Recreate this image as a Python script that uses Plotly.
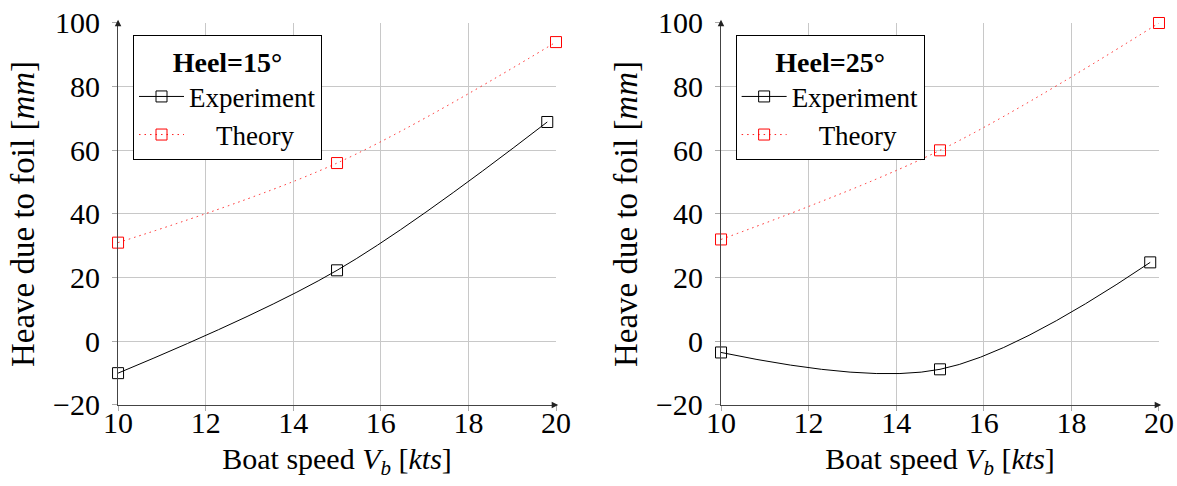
import plotly.graph_objects as go

speed = [10, 15, 19.8]
speed_theory = [10, 15, 20]
exp_15 = [-10, 22.3, 68.9]
theory_15 = [31, 56, 94]
exp_25 = [-3.5, -8.8, 24.8]
theory_25 = [32, 60, 100]
x_ticks = [10, 12, 14, 16, 18, 20]
y_ticks = [-20, 0, 20, 40, 60, 80, 100]
NBSP = "\u00a0"

FONT = "Liberation Serif, Times New Roman, serif"
fig = go.Figure()

panels = [
    ("x", "y", "legend", exp_15, theory_15),
    ("x2", "y2", "legend2", exp_25, theory_25),
]
for xa, ya, lg, ex, th in panels:
    fig.add_trace(go.Scatter(x=speed, y=ex, xaxis=xa, yaxis=ya, legend=lg,
                             name="Experiment", mode="lines+markers",
                             line=dict(color="black", width=1, shape="spline", smoothing=1),
                             marker=dict(symbol="square-open", size=11, color="black", line=dict(width=1)),
                             cliponaxis=False))
    fig.add_trace(go.Scatter(x=speed_theory, y=th, xaxis=xa, yaxis=ya, legend=lg,
                             name=NBSP * 4 + "Theory", mode="lines+markers",
                             line=dict(color="#ff2020", width=1, dash="1.5px,4px", shape="spline", smoothing=1),
                             marker=dict(symbol="square-open", size=11, color="red", line=dict(width=1)),
                             cliponaxis=False))

ydom = [0.1667, 0.9527]
xdoms = [[0.1003, 0.4724], [0.6126, 0.9847]]
axcommon = dict(showgrid=True, gridcolor="#c8c8c8", gridwidth=1, zeroline=False,
                showline=True, linecolor="#444", linewidth=1.3, automargin=False,
                ticks="outside", ticklen=5, tickcolor="#aaa",
                tickfont=dict(family=FONT, size=30, color="black"))
for i, (xa, ya) in enumerate([("xaxis", "yaxis"), ("xaxis2", "yaxis2")]):
    anchor_x = "y" if i == 0 else "y2"
    anchor_y = "x" if i == 0 else "x2"
    fig.update_layout(**{
        xa: dict(domain=xdoms[i], range=[10, 20], tickvals=x_ticks, anchor=anchor_x,
                 ticklabelstandoff=-14,
                 title=dict(text="Boat speed <i>V</i><sub><i>b</i></sub> [<i>kts</i>]",
                            font=dict(family=FONT, size=30, color="black"), standoff=9),
                 **axcommon),
        ya: dict(domain=ydom, range=[-20, 100], tickvals=y_ticks, anchor=anchor_y,
                 ticklabelstandoff=6,
                 title=dict(text="Heave due to foil [<i>mm</i>]",
                            font=dict(family=FONT, size=33, color="black"), standoff=8),
                 **axcommon),
    })

legcommon = dict(bgcolor="white", bordercolor="black", borderwidth=1,
                 font=dict(family=FONT, size=27, color="black"),
                 yanchor="top", y=0.928, xanchor="left", itemwidth=45,
                 tracegroupgap=0)
fig.update_layout(
    legend=dict(x=0.113, title=dict(text="<b>Heel=15°</b>", side="top center",
                                    font=dict(family=FONT, size=28)), **legcommon),
    legend2=dict(x=0.625, title=dict(text="<b>Heel=25°</b>", side="top center",
                                     font=dict(family=FONT, size=28)), **legcommon),
)

for xr, yr in [("x", "y"), ("x2", "y2")]:
    fig.add_annotation(x=20.05, y=-20, ax=19.9, ay=-20, xref=xr, yref=yr, axref=xr, ayref=yr,
                       text="", showarrow=True, arrowhead=2, arrowsize=1, arrowwidth=1.3,
                       arrowcolor="#222")
    fig.add_annotation(x=10, y=101, ax=10, ay=99, xref=xr, yref=yr, axref=xr, ayref=yr,
                       text="", showarrow=True, arrowhead=2, arrowsize=1, arrowwidth=1.3,
                       arrowcolor="#222")

fig.update_layout(width=1177, height=486, margin=dict(l=0, r=0, t=0, b=0),
                  font=dict(family=FONT, size=22, color="black"),
                  plot_bgcolor="white", paper_bgcolor="white", showlegend=True)
fig.write_html("out.html")
